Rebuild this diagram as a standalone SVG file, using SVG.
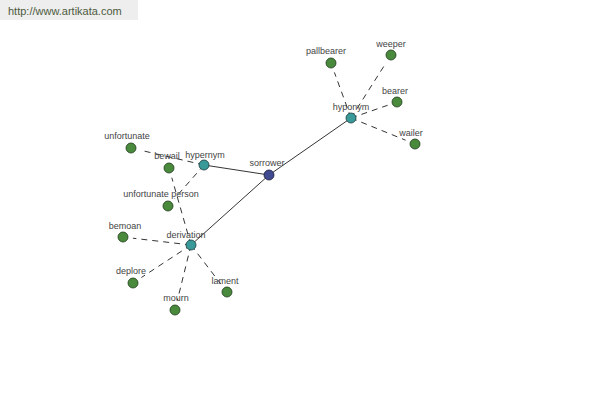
<svg xmlns="http://www.w3.org/2000/svg" width="600" height="400" viewBox="0 0 600 400">
<style>
text{font-family:"Liberation Sans",Arial,sans-serif;font-size:9px;fill:#444;text-anchor:middle}
.hdr{font-size:11px;fill:#4d5a40;text-anchor:start}
.solid{stroke:#000;stroke-width:0.8;fill:none}
.dash{stroke:#000;stroke-width:0.8;stroke-dasharray:6,5;fill:none}
.leaf{fill:#4a8a3c;stroke:#1e3a1a;stroke-width:0.8}
.hub{fill:#3a9a9a;stroke:#1a3a3a;stroke-width:0.8}
.root{fill:#3f4a90;stroke:#1a1a3a;stroke-width:0.8}
</style>
<rect width="600" height="400" fill="#fff"/>
<rect x="0" y="0" width="138" height="20" fill="#eeeeee"/>
<text class="hdr" x="8" y="15">http://www.artikata.com</text>
<g id="connectors">
<line class="solid" x1="204" y1="165" x2="269" y2="175"/>
<line class="solid" x1="269" y1="175" x2="351" y2="118"/>
<line class="solid" x1="269" y1="175" x2="191" y2="245"/>
<line class="dash" x1="351" y1="118" x2="334.4" y2="72.4"/>
<line class="dash" x1="351" y1="118" x2="385.6" y2="63.5"/>
<line class="dash" x1="351" y1="118" x2="387.6" y2="105.3"/>
<line class="dash" x1="351" y1="118" x2="405.6" y2="140.2"/>
<line class="dash" x1="204" y1="165" x2="140.8" y2="150.3"/>
<line class="dash" x1="204" y1="165" x2="174.6" y2="198.5"/>
<line class="dash" x1="191" y1="245" x2="171.8" y2="177.7"/>
<line class="dash" x1="191" y1="245" x2="132.9" y2="238.2"/>
<line class="dash" x1="191" y1="245" x2="141.4" y2="277.5"/>
<line class="dash" x1="191" y1="245" x2="177.4" y2="300.3"/>
<line class="dash" x1="191" y1="245" x2="220.9" y2="284.1"/>
</g>
<g id="sorrower"><circle class="root" cx="269" cy="175" r="5"/><text x="267" y="166">sorrower</text></g>
<g id="hypernym"><circle class="hub" cx="204" cy="165" r="5"/><text x="205" y="158">hypernym</text></g>
<g id="hyponym"><circle class="hub" cx="351" cy="118" r="5"/><text x="351" y="110">hyponym</text></g>
<g id="derivation"><circle class="hub" cx="191" cy="245" r="5"/><text x="186" y="238">derivation</text></g>
<g id="pallbearer"><circle class="leaf" cx="331" cy="63" r="5"/><text x="326" y="54">pallbearer</text></g>
<g id="weeper"><circle class="leaf" cx="391" cy="55" r="5"/><text x="391" y="47">weeper</text></g>
<g id="bearer"><circle class="leaf" cx="397" cy="102" r="5"/><text x="395" y="94">bearer</text></g>
<g id="wailer"><circle class="leaf" cx="415" cy="144" r="5"/><text x="411" y="136">wailer</text></g>
<g id="unfortunate"><circle class="leaf" cx="131" cy="148" r="5"/><text x="127" y="139">unfortunate</text></g>
<g id="bewail"><circle class="leaf" cx="169" cy="168" r="5"/><text x="167" y="159">bewail</text></g>
<g id="unfortunate-person"><circle class="leaf" cx="168" cy="206" r="5"/><text x="161" y="197">unfortunate person</text></g>
<g id="bemoan"><circle class="leaf" cx="123" cy="237" r="5"/><text x="125" y="229">bemoan</text></g>
<g id="deplore"><circle class="leaf" cx="133" cy="283" r="5"/><text x="131" y="274">deplore</text></g>
<g id="mourn"><circle class="leaf" cx="175" cy="310" r="5"/><text x="176" y="301">mourn</text></g>
<g id="lament"><circle class="leaf" cx="227" cy="292" r="5"/><text x="225" y="284">lament</text></g>
</svg>
